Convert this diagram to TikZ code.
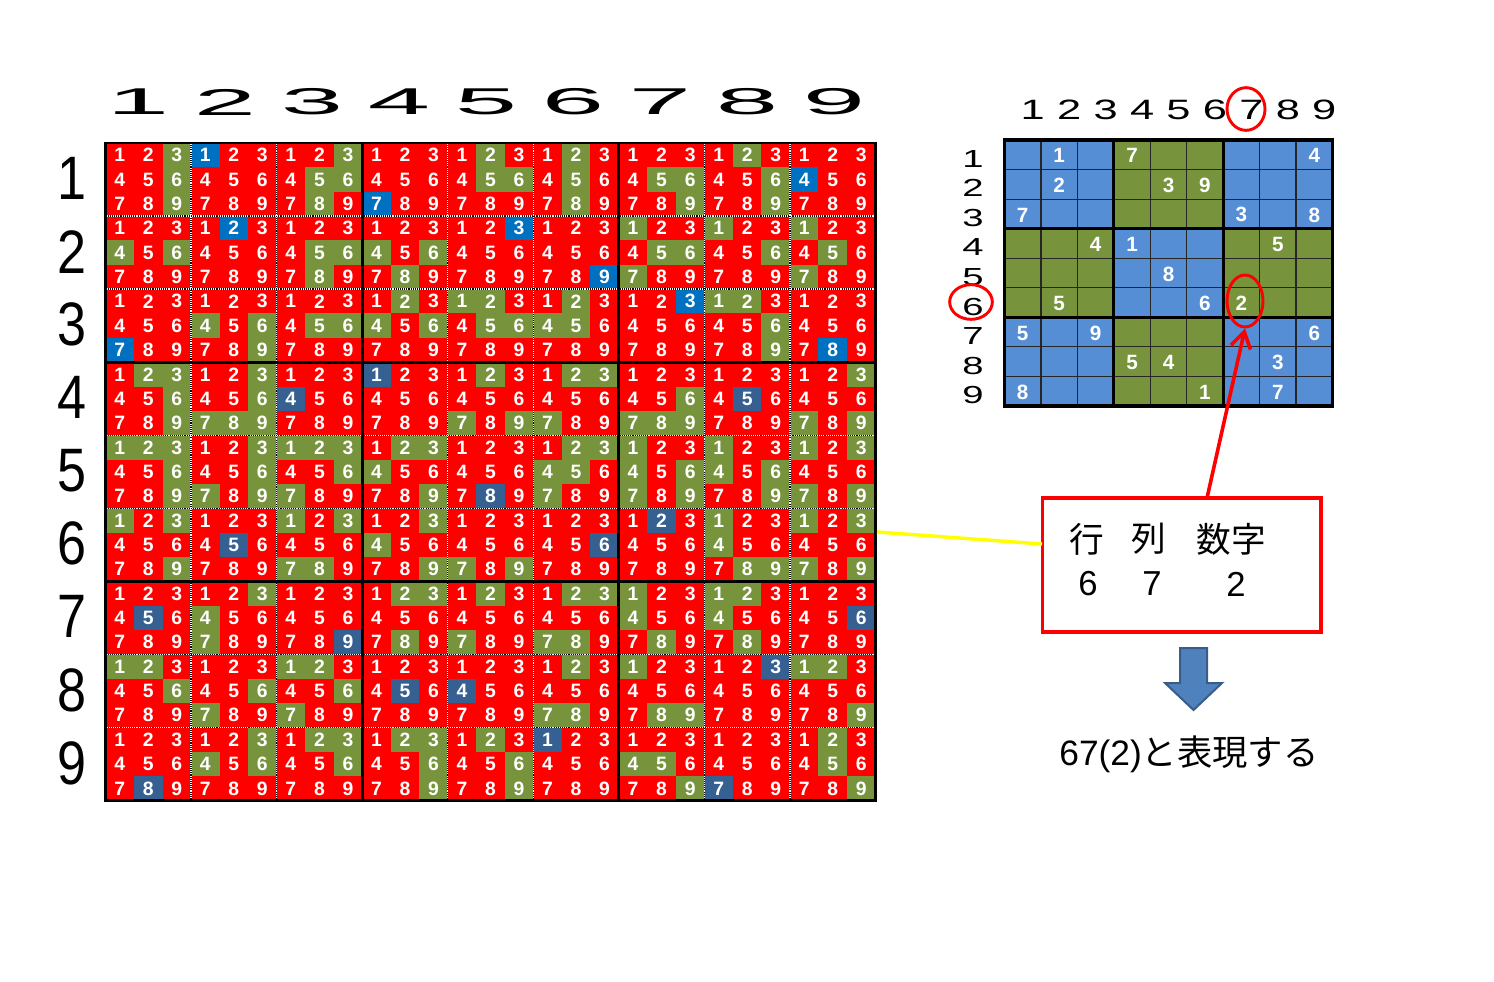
\documentclass[tikz,border=0pt]{standalone}
\usepackage{fontspec}
\setmainfont{Liberation Sans}
\newfontfamily\cjk{Noto Sans CJK JP}
\usetikzlibrary{shapes.geometric,arrows.meta}
\definecolor{cred}{HTML}{FF0000}
\definecolor{cgreen}{HTML}{77933C}
\definecolor{cblue}{HTML}{0070C0}
\definecolor{cdblue}{HTML}{376092}
\definecolor{rblue}{HTML}{558ED5}
\definecolor{afill}{HTML}{4F81BD}
\definecolor{aline}{HTML}{385D8A}
\definecolor{cyellow}{HTML}{FFFF00}
\tikzset{
  subdig/.style={text=white, font=\fontsize{14.5}{14.5}\selectfont\bfseries, inner sep=0pt},
  rdig/.style={text=white, font=\fontsize{15.5}{15.5}\selectfont\bfseries, inner sep=0pt},
  bighead/.style={font=\fontsize{28}{28}\selectfont, inner sep=0pt},
  bigrow/.style={font=\fontsize{46}{46}\selectfont, inner sep=0pt},
  rhead/.style={font=\fontsize{21}{21}\selectfont, inner sep=0pt},
  rrow/.style={font=\fontsize{18.5}{18.5}\selectfont, inner sep=0pt},
  sepw/.style={white, line width=1pt},
  sepb/.style={black, line width=1pt, dash pattern=on 0.8pt off 0.8pt},
  boxline/.style={black, line width=2.2pt},
  rthin/.style={black!85, line width=0.9pt},
  rthick/.style={black, line width=2.3pt},
  redring/.style={ellipse, draw=cred, line width=2.2pt, inner sep=0pt},
  txt/.style={font=\fontsize{26}{26}\selectfont, inner sep=0pt},
  cjktxt/.style={font=\cjk\fontsize{26}{26}\selectfont, inner sep=0pt},
}
\begin{document}
\begin{tikzpicture}[x=0.75pt,y=-0.75pt]
\useasboundingbox (0,0) rectangle (1494,981);
% givens
\foreach \ri/\ci/\di in {1/2/1,1/4/7,1/9/4,2/2/2,2/5/3,2/6/9,3/1/7,3/7/3,3/9/8,
  4/3/4,4/4/1,4/8/5,5/5/8,6/2/5,6/6/6,6/7/2,7/1/5,7/3/9,7/9/6,
  8/4/5,8/5/4,8/8/3,9/1/8,9/6/1,9/8/7}{
  \pgfmathtruncatemacro\bx{3*int((\ri-1)/3)+int((\ci-1)/3)+1}
  \expandafter\xdef\csname G\ri-\ci\endcsname{\di}
  \expandafter\xdef\csname R\ri-\di\endcsname{1}
  \expandafter\xdef\csname C\ci-\di\endcsname{1}
  \expandafter\xdef\csname B\bx-\di\endcsname{1}
}
\def\XA{105.5}\def\YA{143}\def\XB{875.5}\def\YB{800.5}
\def\CW{85.556}\def\CH{73.06}
\def\SW{28.519}\def\SH{24.353}
% big grid
\foreach \ri in {1,...,9}{
 \foreach \ci in {1,...,9}{
  \pgfmathtruncatemacro\bx{3*int((\ri-1)/3)+int((\ci-1)/3)+1}
  \foreach \di in {1,...,9}{
    \pgfmathtruncatemacro\subr{int((\di-1)/3)}
    \pgfmathtruncatemacro\subc{mod(\di-1,3)}
    \pgfmathsetmacro\xx{\XA+(\ci-1)*\CW+\subc*\SW}
    \pgfmathsetmacro\yy{\YA+(\ri-1)*\CH+\subr*\SH}
    \ifcsname G\ri-\ci\endcsname
      \ifnum\csname G\ri-\ci\endcsname=\di\relax
        \ifnum\ri<4\relax\def\cc{cblue}\else\def\cc{cdblue}\fi
      \else\def\cc{cred}\fi
    \else
      \def\cc{cgreen}%
      \ifcsname R\ri-\di\endcsname\def\cc{cred}\fi
      \ifcsname C\ci-\di\endcsname\def\cc{cred}\fi
      \ifcsname B\bx-\di\endcsname\def\cc{cred}\fi
    \fi
    \fill[\cc] (\xx,\yy) rectangle ++(\SW+0.3,\SH+0.3);
    \node[subdig] (s\ri\ci\di) at (\xx+\SW/2,\yy+\SH/2) {\di};
  }
 }
}
\foreach \k in {1,2,4,5,7,8}{
  \draw[sepw] (\XA+\k*\CW,\YA) -- (\XA+\k*\CW,\YB);
  \draw[sepb] (\XA+\k*\CW,\YA) -- (\XA+\k*\CW,\YB);
  \draw[sepw] (\XA,\YA+\k*\CH) -- (\XB,\YA+\k*\CH);
  \draw[sepb] (\XA,\YA+\k*\CH) -- (\XB,\YA+\k*\CH);
}
\foreach \k in {3,6}{
  \draw[boxline] (\XA+\k*\CW,\YA) -- (\XA+\k*\CW,\YB);
  \draw[boxline] (\XA,\YA+\k*\CH) -- (\XB,\YA+\k*\CH);
}
\draw[black, line width=1.6pt] (\XA,\YA) rectangle (\XB,\YB);
% big labels
\foreach \k in {1,...,9}{
  \node[bighead] (h\k) at ({138+87*(\k-1)},102) {\scalebox{3}[1]{\k}};
  \node[bigrow] (l\k) at (72,{\YA+(\k-0.5)*\CH-1}) {\scalebox{0.85}[1]{\k}};
}
% right grid
\def\RXA{1004.5}\def\RYA{140}\def\RXB{1332.5}\def\RYB{406}
\def\RCW{36.444}\def\RCH{29.556}
\foreach \ri in {1,...,9}{
 \foreach \ci in {1,...,9}{
  \pgfmathtruncatemacro\bp{mod(int((\ri-1)/3)+int((\ci-1)/3),2)}
  \ifnum\bp=0\relax\def\cc{rblue}\else\def\cc{cgreen}\fi
  \fill[\cc] ({\RXA+(\ci-1)*\RCW},{\RYA+(\ri-1)*\RCH}) rectangle ++(\RCW+0.3,\RCH+0.3);
  \ifcsname G\ri-\ci\endcsname
    \node[rdig] (g\ri\ci) at ({\RXA+(\ci-0.5)*\RCW},{\RYA+(\ri-0.5)*\RCH+1}) {\csname G\ri-\ci\endcsname};
  \fi
 }
}
\foreach \k in {1,2,4,5,7,8}{
  \draw[rthin] (\RXA+\k*\RCW,\RYA) -- (\RXA+\k*\RCW,\RYB);
  \draw[rthin] (\RXA,\RYA+\k*\RCH) -- (\RXB,\RYA+\k*\RCH);
}
\foreach \k in {3,6}{
  \draw[rthick] (\RXA+\k*\RCW,\RYA) -- (\RXA+\k*\RCW,\RYB);
  \draw[rthick] (\RXA,\RYA+\k*\RCH) -- (\RXB,\RYA+\k*\RCH);
}
\draw[rthick] (\RXA,\RYA) rectangle (\RXB,\RYB);
\foreach \k in {1,...,9}{
  \node[rhead] (rh\k) at ({\RXA+(\k-0.5)*\RCW+10},110) {\scalebox{1.55}[1]{\k}};
  \node[rrow] (rl\k) at (973,{\RYA+(\k-0.5)*\RCH+4}) {\scalebox{1.55}[1]{\k}};
}
% red rings
\node[redring, minimum width=28.5pt, minimum height=32pt] (c1) at (1246,109) {};
\node[redring, minimum width=32pt, minimum height=26pt] (c2) at (971,302) {};
\node[redring, minimum width=27pt, minimum height=39pt] (c3) at (1245,301) {};
% box
\node[draw=cred, line width=2.5pt, minimum width=209pt, minimum height=100.5pt, inner sep=0pt] (box) at (1181.5,565) {};
\coordinate (astart) at (1207,498);
\draw[cred, line width=2.7pt, -{Straight Barb[length=12pt,width=15pt,line width=2.7pt]}] (astart) -- (c3.south);
\coordinate (ys) at (877,532);
\coordinate (ye) at (1042,544);
\draw[cyellow, line width=2.6pt] (ys) -- (ye);
\node[cjktxt] (t1) at (1087,539) {行};
\node[cjktxt] (t2) at (1149,539) {列};
\node[cjktxt] (t3) at (1231,539) {数字};
\node[txt] (n1) at (1088,584) {6};
\node[txt] (n2) at (1152,584) {7};
\node[txt] (n3) at (1236,584) {2};
% blue block arrow
\fill[afill, draw=aline, line width=1.5pt] (1180,648) -- (1207,648) -- (1207,683) -- (1222,683) -- (1193.5,710) -- (1165,683) -- (1180,683) -- cycle;
\node[inner sep=0pt, anchor=base] (res) at (1189,765) {\fontsize{26.5}{26.5}\selectfont 67(2)\cjk と表現する};
\end{tikzpicture}
\end{document}
